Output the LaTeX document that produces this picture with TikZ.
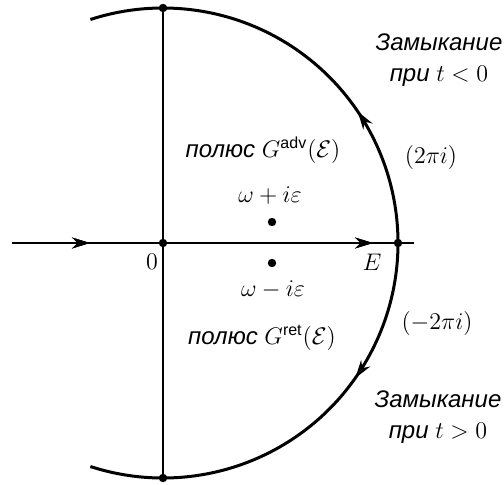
\documentclass[tikz,border=0pt]{standalone}
\usepackage{amsmath,amssymb}
\usepackage{fontspec}
\usetikzlibrary{arrows.meta, decorations.markings}
\newfontfamily\ruslabel{Liberation Sans}
\tikzset{
  contour/.style={line width=1.5pt},
  axisline/.style={line width=0.8pt},
  vaxis/.style={line width=0.6pt},
  pt/.style={circle, fill=black, inner sep=0pt, minimum size=4.2pt},
  rus/.style={font=\ruslabel\itshape\fontsize{12}{15.5}\selectfont, align=center},
  mlabel/.style={font=\fontsize{12}{14}\selectfont},
  midarrow/.style={postaction={decorate}, decoration={markings,
    mark=at position #1 with {\arrow{Stealth[length=9pt,width=5.5pt]}}}}
}

\begin{document}
\begin{tikzpicture}[x=0.5pt, y=0.5pt]
  \useasboundingbox (-163,-241) rectangle (341,243);
  \coordinate (left) at (-151,0);
  \coordinate (right) at (251,0);
  \node[pt] (O) at (0,0) {};
  \node[pt] (E) at (235,0) {};
  \node[pt] (top) at (0,235) {};
  \node[pt] (bot) at (0,-235) {};
  \node[pt] (padv) at (109,21) {};
  \node[pt] (pret) at (109,-20) {};

  \draw[vaxis] (top.center) -- (bot.center);
  \draw[axisline, midarrow=0.194, midarrow=0.898] (left) -- (right);
  % closing half-circles
  \draw[contour, midarrow=0.315] (E.center) arc[start angle=0, end angle=108, radius=235];
  \draw[contour, midarrow=0.325] (E.center) arc[start angle=0, end angle=-108, radius=235];

  \node[mlabel] (zero) at (-11,-19) {$0$};
  \node[mlabel] (elabel) at (209,-19) {$E$};
  \node[mlabel] (plus) at (107,47) {$\omega+i\varepsilon$};
  \node[mlabel] (minus) at (110,-47) {$\omega-i\varepsilon$};
  \node[rus] (advlabel) at (100,93) {полюс $G^{\text{\upshape\ruslabel adv}}(\mathcal{E})$};
  \node[rus] (retlabel) at (99,-95) {полюс $G^{\text{\upshape\ruslabel ret}}(\mathcal{E})$};

  \node[rus] (closeup) at (276,183) {Замыкание\\при $t<0$};
  \node[rus] (closedown) at (275,-174) {Замыкание\\при $t>0$};
  \node[mlabel] (resup) at (268,86) {$(2\pi i)$};
  \node[mlabel] (resdown) at (274,-80) {$(-2\pi i)$};
\end{tikzpicture}
\end{document}
